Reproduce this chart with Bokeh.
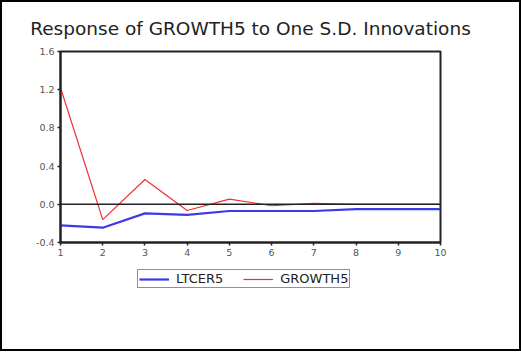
from bokeh.plotting import figure
from bokeh.layouts import column
from bokeh.models import Span, Legend, LegendItem, FixedTicker, Range1d, CustomJSTickFormatter
from bokeh.embed import file_html
from bokeh.resources import INLINE

periods = [1, 2, 3, 4, 5, 6, 7, 8, 9, 10]
ltcer5 = [-0.22, -0.245, -0.095, -0.11, -0.07, -0.07, -0.07, -0.05, -0.05, -0.05]
growth5 = [1.22, -0.16, 0.26, -0.065, 0.055, -0.015, 0.01, 0.0, 0.0, 0.0]
y_ticks = [-0.4, 0.0, 0.4, 0.8, 1.2, 1.6]
title_text = "Response of GROWTH5 to One S.D. Innovations"
series_names = ["LTCER5", "GROWTH5"]
series_values = [ltcer5, growth5]
series_colors = ["#3a3ae8", "#f03030"]
series_widths = [2.2, 1.2]

FONT = "DejaVu Sans"

p = figure(width=517, height=260, output_backend="svg", toolbar_location=None,
           x_range=Range1d(1, 10), y_range=Range1d(-0.4, 1.6),
           min_border_left=58, min_border_right=79, min_border_top=49, min_border_bottom=20)

p.title.text = title_text
p.title.align = "center"
p.title.text_font = FONT
p.title.text_font_size = "18.5px"
p.title.text_font_style = "normal"
p.title.text_color = "#222222"
p.title.standoff = 25

p.grid.visible = False
p.outline_line_color = "#222222"
p.outline_line_width = 2

p.xaxis.ticker = FixedTicker(ticks=periods)
p.yaxis.ticker = FixedTicker(ticks=y_ticks)
p.yaxis.formatter = CustomJSTickFormatter(code="return tick.toFixed(1);")
for ax in (p.xaxis[0], p.yaxis[0]):
    ax.axis_line_color = "#222222"
    ax.axis_line_width = 2
    ax.major_tick_line_color = "#222222"
    ax.major_tick_line_width = 1.5
    ax.major_tick_out = 3
    ax.major_tick_in = 0
    ax.minor_tick_line_color = None
    ax.major_label_text_font = FONT
    ax.major_label_text_font_size = "9.5px"
    ax.major_label_text_color = "#555555"
p.yaxis.major_label_standoff = 3
p.xaxis.major_label_standoff = 3

p.add_layout(Span(location=0, dimension="width", line_color="#222222", line_width=1.5))

for vals, col, lw in zip(series_values, series_colors, series_widths):
    p.line(periods, vals, line_color=col, line_width=lw)

# legend strip below the chart; its lines lie outside its (hidden) ranges
p2 = figure(width=517, height=87, output_backend="svg", toolbar_location=None,
            x_axis_location=None, y_axis_location=None,
            x_range=Range1d(-10, -9), y_range=Range1d(-10, -9),
            min_border_left=0, min_border_right=0, min_border_top=0, min_border_bottom=0)
p2.grid.visible = False
p2.outline_line_color = None

items = []
for name, vals, col, lw in zip(series_names, series_values, series_colors, series_widths):
    r = p2.line(periods, vals, line_color=col, line_width=lw)
    items.append(LegendItem(label=name, renderers=[r]))

legend = Legend(items=items, orientation="horizontal", location=(77, 61),
                label_text_font=FONT, label_text_font_size="13px", label_text_color="#222222",
                border_line_color="#222222", border_line_width=1,
                glyph_width=30, glyph_height=12, label_height=12,
                padding=1, spacing=20, margin=0, label_standoff=7)
p2.add_layout(legend, "center")

layout = column(p, p2, spacing=0, styles={"border": "2px solid black"})

open("out.html", "w").write(file_html(layout, INLINE))
